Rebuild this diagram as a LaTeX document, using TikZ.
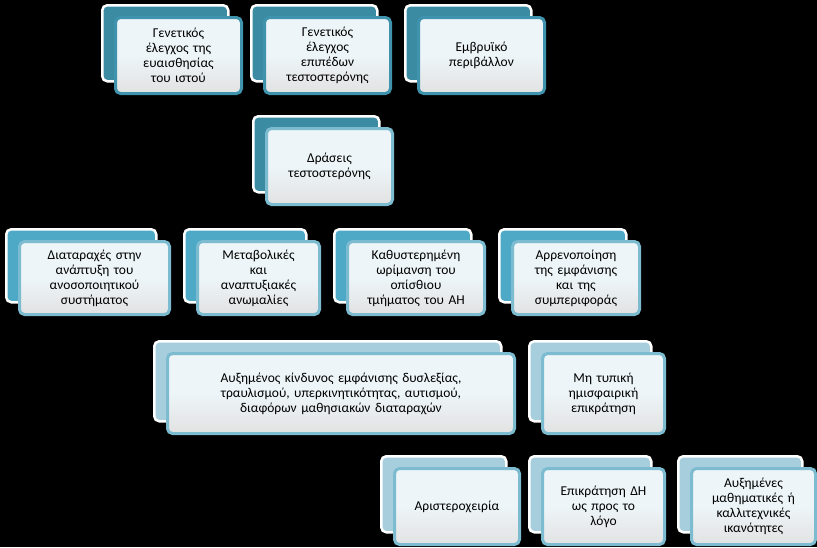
\documentclass[tikz,border=0pt]{standalone}
\usepackage{fontspec}
\setmainfont{Carlito}
\usetikzlibrary{backgrounds}
\definecolor{dk}{HTML}{3B8CA3}
\definecolor{md}{HTML}{4DA9C5}
\definecolor{lt}{HTML}{A6CEDC}
\definecolor{fr}{HTML}{EDF5F8}
\definecolor{fb}{HTML}{E2E2E2}
\definecolor{edgeA}{HTML}{3F93AC}
\definecolor{edgeB}{HTML}{7DBBD0}
\definecolor{ln}{HTML}{A9CFDD}
\tikzset{
 backbox/.style={draw=white,line width=2.5pt,rounded corners=5pt,anchor=north west,inner sep=0pt},
 frontbox/.style={draw=#1,line width=3pt,rounded corners=5pt,anchor=north west,inner sep=2pt,
   top color=fr,bottom color=fb,middle color=fr,align=center,font=\fontsize{13.5}{15}\selectfont,text=black},
 conn/.style={draw=ln,line width=3pt}
}
\newcommand{\nd}[8]{%
 \node[backbox,fill=#7,minimum width=#4pt,minimum height=#5pt] (#1-b) at (#2,#3) {};
 \node[frontbox=#8,minimum width=#4pt,minimum height=#5pt,text width=#4pt-6pt] (#1) at (#2+13,#3+12) {#6};}
\begin{document}
\begin{tikzpicture}[x=1pt,y=-1pt]
\fill[black] (0,0) rectangle (817,547);
\useasboundingbox (0,0) rectangle (817,547);
\nd{A}{101}{4}{126}{76}{Γενετικός\\έλεγχος της\\ευαισθησίας\\του ιστού}{dk}{edgeA}
\nd{B}{250}{4}{126}{76}{Γενετικός\\έλεγχος\\επιπέδων\\τεστοστερόνης}{dk}{edgeA}
\nd{C}{404}{4}{126}{76}{Εμβρυϊκό\\περιβάλλον}{dk}{edgeA}
\nd{D}{252}{115}{126}{76}{Δράσεις\\τεστοστερόνης}{dk}{edgeB}
\nd{E}{5}{228}{150}{73}{Διαταραχές στην\\ανάπτυξη του\\ανοσοποιητικού\\συστήματος}{md}{edgeB}
\nd{F}{183}{228}{122}{73}{Μεταβολικές\\και\\αναπτυξιακές\\ανωμαλίες}{md}{edgeB}
\nd{G}{333}{228}{137}{73}{Καθυστερημένη\\ωρίμανση του\\οπίσθιου\\τμήματος του ΑΗ}{md}{edgeB}
\nd{H}{498}{228}{127}{73}{Αρρενοποίηση\\της εμφάνισης\\και της\\συμπεριφοράς}{md}{edgeB}
\nd{I}{153}{340}{347}{80}{Αυξημένος κίνδυνος εμφάνισης δυσλεξίας,\\τραυλισμού, υπερκινητικότητας, αυτισμού,\\διαφόρων μαθησιακών διαταραχών}{lt}{edgeB}
\nd{J}{528}{340}{122}{80}{Μη τυπική\\ημισφαιρική\\επικράτηση}{lt}{edgeB}
\nd{K}{380}{455}{125}{76}{Αριστεροχειρία}{lt}{edgeB}
\nd{L}{528}{455}{122}{76}{Επικράτηση ΔΗ\\ως προς το\\λόγο}{lt}{edgeB}
\nd{M}{677}{455}{124}{76}{Αυξημένες\\μαθηματικές ή\\καλλιτεχνικές\\ικανότητες}{lt}{edgeB}
\begin{scope}[on background layer]
\fill[black] (0,0) rectangle (817,547);
\draw[conn] (B-b.center) -- (D-b.center);
\foreach \t in {E,F,G,H}{\draw[conn] (D-b.center) -- (D-b.center |- 0,217) -| (\t-b.center);}
\foreach \t in {I,J}{\draw[conn] (G-b.center) -- (G-b.center |- 0,327) -| (\t-b.center);}
\foreach \t in {K,L,M}{\draw[conn] (J-b.center) -- (J-b.center |- 0,442) -| (\t-b.center);}
\end{scope}
\end{tikzpicture}
\end{document}
